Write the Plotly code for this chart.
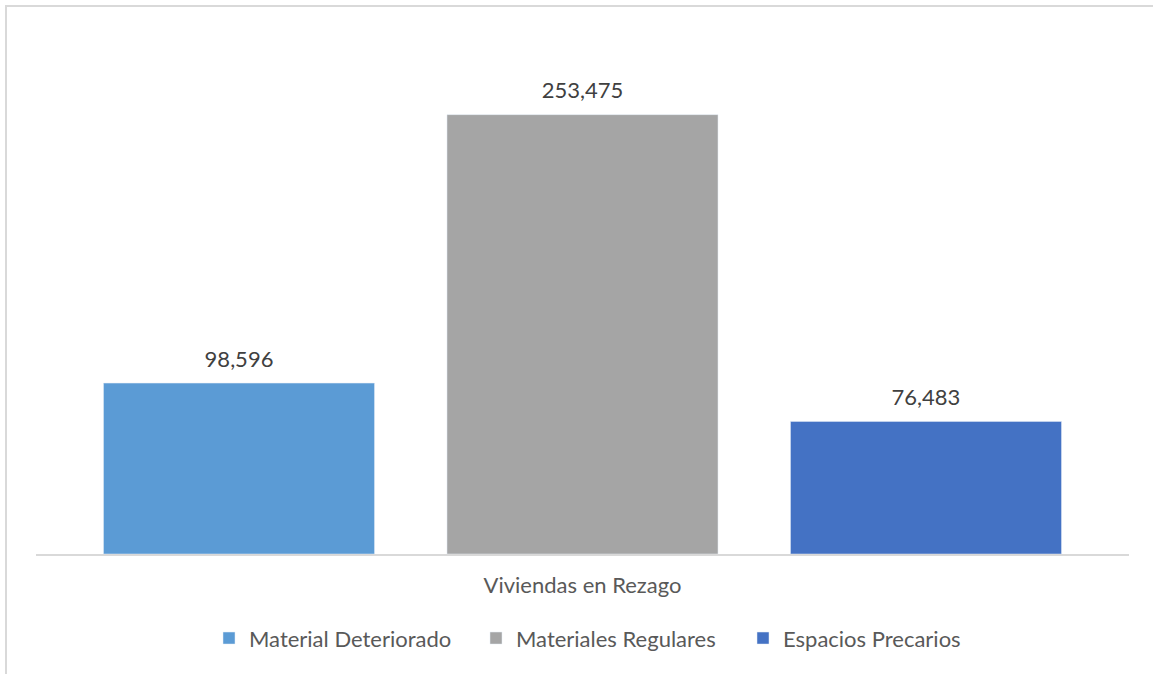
import plotly.graph_objects as go

categories = ["Viviendas en Rezago"]
series_names = ["Material Deteriorado", "Materiales Regulares", "Espacios Precarios"]
series_values = [[98596], [253475], [76483]]
series_colors = ["#5b9bd5", "#a5a5a5", "#4472c4"]

W, H = 1153, 674
ML, MR, MT, MB = 36, 24, 34, 120
FONT = "Lato"

fig = go.Figure()
for name, vals, col in zip(series_names, series_values, series_colors):
    fig.add_trace(go.Bar(
        x=categories, y=vals, name=name, marker_color=col,
        offsetgroup=name, hoverinfo="skip",
    ))
for name, vals in zip(series_names, series_values):
    fig.add_trace(go.Scatter(
        x=categories, y=vals, mode="markers+text", showlegend=False,
        offsetgroup=name, text=[f"{v:,}" for v in vals],
        textposition="top center",
        textfont=dict(family=FONT, size=22, color="#404040"),
        marker=dict(size=16, opacity=0), hoverinfo="skip", cliponaxis=False,
    ))

pw = W - ML - MR
ph = H - MT - MB
fig.add_shape(type="rect", xref="paper", yref="paper",
              x0=(6 - ML) / pw, x1=(W + 20 - ML) / pw,
              y0=-(H + 20 - MT - ph) / ph, y1=(H - MB - 6) / ph,
              line=dict(color="#d9d9d9", width=2), fillcolor="rgba(0,0,0,0)", layer="below")

fig.update_layout(
    width=W, height=H,
    margin=dict(l=ML, r=MR, t=MT, b=MB),
    paper_bgcolor="white", plot_bgcolor="white",
    barmode="group", scattermode="group",
    bargap=0.0572, bargroupgap=0.211, scattergap=0.0572,
    font=dict(family=FONT, color="#595959", size=22),
    showlegend=True,
    legend=dict(orientation="h", x=(209 - ML) / pw, xanchor="left", y=-0.162, yanchor="middle",
                font=dict(family=FONT, size=22, color="#595959"),
                entrywidth=222, entrywidthmode="pixels"),
    xaxis=dict(showline=True, linecolor="#d9d9d9", linewidth=2, ticks="",
               tickfont=dict(family=FONT, size=22, color="#595959"),
               ticklabelstandoff=11,
               showgrid=False, zeroline=False, fixedrange=True),
    yaxis=dict(visible=False, range=[0, 300000], showgrid=False, zeroline=False, fixedrange=True),
)

fig.write_html("out.html")
